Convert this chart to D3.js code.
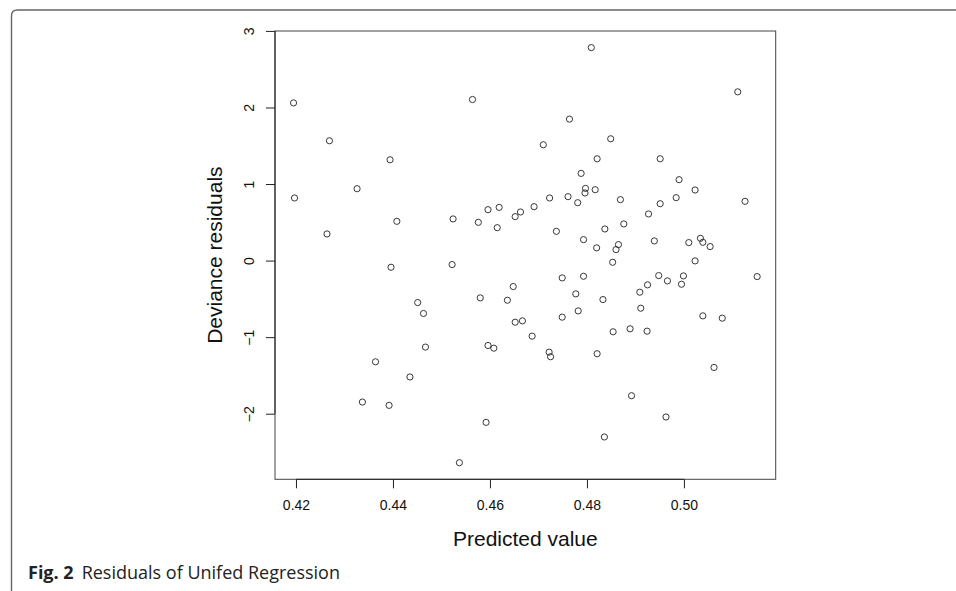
<!DOCTYPE html>
<html>
<head>
<meta charset="utf-8">
<script src="https://cdn.jsdelivr.net/npm/d3@7"></script>
<style>
  body { margin: 0; background: #fff; }
  svg { display: block; }
</style>
</head>
<body>
<div id="resid-plot"></div>
<script>

// Residual plot data

// predicted values (x)
const predicted = [
  0.4195, 0.4269, 0.4394, 0.4326, 0.4197, 0.4408, 0.4524, 0.4576, 0.4264, 0.4564,
  0.4396, 0.4522, 0.4580, 0.4451, 0.4463, 0.4467, 0.4364, 0.4435, 0.4337, 0.4392,
  0.4537, 0.4809, 0.5111, 0.4764, 0.4849, 0.4710, 0.4821, 0.4951, 0.4788, 0.4990,
  0.4797, 0.4796, 0.4817, 0.5023, 0.4723, 0.4761, 0.4781, 0.4869, 0.4951, 0.4984,
  0.5126, 0.4927, 0.4691, 0.4663, 0.4652, 0.4619, 0.4596, 0.4615, 0.4876, 0.4837,
  0.4737, 0.4793, 0.4939, 0.5010, 0.5034, 0.5039, 0.5054, 0.4820, 0.4865, 0.4860,
  0.4853, 0.5023, 0.4648, 0.4636, 0.4652, 0.4667, 0.4687, 0.4596, 0.4608, 0.4722,
  0.4725, 0.4749, 0.4793, 0.4777, 0.4782, 0.4749, 0.4833, 0.4821, 0.4854, 0.4889,
  0.4924, 0.4911, 0.4909, 0.4925, 0.4948, 0.4966, 0.4999, 0.4995, 0.5151, 0.5039,
  0.5079, 0.5062, 0.4892, 0.4963, 0.4836, 0.4592
];

// deviance residuals (y)
const residuals = [
  2.060, 1.565, 1.317, 0.939, 0.818, 0.513, 0.544, 0.500, 0.348, 2.104,
  -0.087, -0.052, -0.487, -0.548, -0.691, -1.130, -1.322, -1.520, -1.848, -1.891,
  -2.640, 2.782, 2.204, 1.848, 1.591, 1.513, 1.330, 1.330, 1.139, 1.057,
  0.943, 0.883, 0.926, 0.922, 0.818, 0.835, 0.756, 0.796, 0.743, 0.822,
  0.774, 0.609, 0.704, 0.635, 0.574, 0.695, 0.665, 0.430, 0.479, 0.413,
  0.382, 0.274, 0.257, 0.235, 0.291, 0.239, 0.183, 0.166, 0.209, 0.143,
  -0.022, -0.004, -0.339, -0.518, -0.805, -0.787, -0.987, -1.109, -1.144, -1.196,
  -1.256, -0.226, -0.205, -0.435, -0.657, -0.739, -0.509, -1.217, -0.930, -0.891,
  -0.922, -0.622, -0.413, -0.317, -0.196, -0.265, -0.200, -0.309, -0.209, -0.722,
  -0.752, -1.396, -1.765, -2.043, -2.304, -2.113
];

// tick values
const xTicks = [0.42, 0.44, 0.46, 0.48, 0.50];
const yTicks = [-2, -1, 0, 1, 2, 3];

const xLabel = "Predicted value";
const yLabel = "Deviance residuals";

// Set dimensions and margins for the plot
const width = 956;
const height = 591;
const margin = {left: 275, right: 180.3, top: 31, bottom: 111.7};

const svg = d3
  .select("#resid-plot")
  .append("svg")
  .attr("width", width)
  .attr("height", height);

// the frame of the figure box (rounded top-left corner)
svg.append("path")
  .attr("d", "M11.5,591 L11.5,16 Q11.5,10 17.5,10 L956,10")
  .attr("fill", "none")
  .attr("stroke", "#666")
  .attr("stroke-width", 1.4);

// R style: pad the data range by 4% on each side
const pad = function(ext) {
  const d = (ext[1] - ext[0]) * 0.04;
  return [ext[0] - d, ext[1] + d];
};

const xScale = d3.scaleLinear()
  .domain(pad(d3.extent(predicted)))
  .range([margin.left, width - margin.right]);

const yScale = d3.scaleLinear()
  .domain(pad(d3.extent(residuals)))
  .range([height - margin.bottom, margin.top]);

const x0 = margin.left, x1 = width - margin.right;
const y0 = margin.top, y1 = height - margin.bottom;

// plot box
svg.append("rect")
  .attr("x", x0)
  .attr("y", y0)
  .attr("width", x1 - x0)
  .attr("height", y1 - y0)
  .attr("fill", "none")
  .attr("stroke", "#444")
  .attr("stroke-width", 1);

// x axis
const xAxis = svg.append("g")
  .attr("transform", `translate(0,${y1})`)
  .call(d3.axisBottom(xScale)
    .tickValues(xTicks)
    .tickFormat(d3.format(".2f"))
    .tickSize(9)
    .tickSizeOuter(0)
    .tickPadding(12));
xAxis.select(".domain")
  .attr("d", `M${xScale(xTicks[0])},0H${xScale(xTicks[xTicks.length - 1])}`)
  .attr("stroke", "#222");
xAxis.selectAll("line").attr("stroke", "#222");
xAxis.selectAll("text")
  .attr("font-family", "Liberation Sans, Arial, sans-serif")
  .attr("font-size", "14px")
  .attr("fill", "#111");

// y axis
const yAxis = svg.append("g")
  .attr("transform", `translate(${x0},0)`)
  .call(d3.axisLeft(yScale)
    .tickValues(yTicks)
    .tickFormat(d3.format("d"))
    .tickSize(9)
    .tickSizeOuter(0));
yAxis.select(".domain")
  .attr("d", `M0,${yScale(yTicks[0])}V${yScale(yTicks[yTicks.length - 1])}`)
  .attr("stroke", "#222");
yAxis.selectAll("line").attr("stroke", "#222");
// rotated tick labels, like R's default las=0
yAxis.selectAll("text")
  .attr("x", null)
  .attr("dy", null)
  .attr("text-anchor", "middle")
  .attr("transform", "translate(-21,0) rotate(-90)")
  .attr("font-family", "Liberation Sans, Arial, sans-serif")
  .attr("font-size", "14px")
  .attr("fill", "#111")
  .text(d => d < 0 ? "\u2212" + Math.abs(d) : d);

// axis titles
svg.append("text")
  .attr("x", (x0 + x1) / 2)
  .attr("y", 546)
  .attr("text-anchor", "middle")
  .attr("font-family", "Liberation Sans, Arial, sans-serif")
  .attr("font-size", "21px")
  .attr("fill", "#111")
  .text(xLabel);

svg.append("text")
  .attr("transform", `translate(221.5,${(y0 + y1) / 2}) rotate(-90)`)
  .attr("text-anchor", "middle")
  .attr("font-family", "Liberation Sans, Arial, sans-serif")
  .attr("font-size", "21px")
  .attr("fill", "#111")
  .text(yLabel);

// points (open circles)
svg.selectAll(".pt")
  .data(d3.range(predicted.length))
  .enter()
  .append("circle")
    .attr("class", "pt")
    .attr("cx", i => xScale(predicted[i]))
    .attr("cy", i => yScale(residuals[i]))
    .attr("r", 3.1)
    .attr("fill", "none")
    .attr("stroke", "#222")
    .attr("stroke-width", 0.9);

// figure caption
const cap = svg.append("text")
  .attr("x", 28)
  .attr("y", 579)
  .attr("font-family", "Open Sans, Noto Sans, sans-serif")
  .attr("font-size", "18px")
  .attr("fill", "#222");
cap.append("tspan").attr("font-weight", "bold").text("Fig. 2");
cap.append("tspan").attr("dx", 8).text("Residuals of Unifed Regression");

</script>
</body>
</html>
